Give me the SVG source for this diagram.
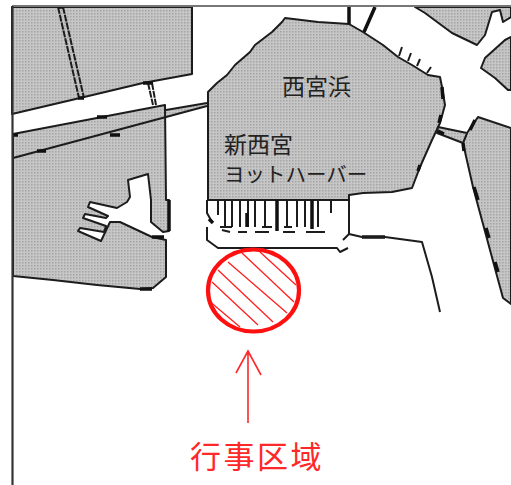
<svg xmlns="http://www.w3.org/2000/svg" width="511" height="485" viewBox="0 0 511 485">
<defs>
<pattern id="stipple" width="3" height="3" patternUnits="userSpaceOnUse">
<rect width="3" height="3" fill="#c6c6c6"/>
<rect x="1" y="1" width="1.5" height="1.5" fill="#a4a4a4"/>
</pattern>
</defs>
<style>
.land{fill:url(#stipple);stroke:#1c1c1c;stroke-width:2;stroke-linejoin:round}
.ln{fill:none;stroke:#1c1c1c;stroke-width:2;stroke-linejoin:round}
.thick{fill:none;stroke:#111;stroke-width:3.5}
.hatch{fill:none;stroke:#ff2020;stroke-width:1.3}
.lbl{font-family:"Noto Sans CJK JP","Liberation Sans",sans-serif;fill:#222}
.red{font-family:"Noto Sans CJK JP","Liberation Sans",sans-serif;fill:#ff2828;font-size:31px;letter-spacing:2.5px}
</style>
<rect width="511" height="485" fill="#fff"/>
<g id="map">
<polygon class="land" points="12,7 192,7 192,74 143,83 80,98 12,114"/>
<polygon class="land" points="13,134 165,105 166,200 169,200 169,231 163,232 151,222 151,200 148,174 128,180 130,197 127,202 117,208 90,202 88,207 108,216 106,218 85,214 83,218 106,226 104,232 80,228 78,231 101,241 110,222 120,222 152,237 166,240 166,277 153,288 140,289 97,285 53,280 13,276"/>
<polygon points="166,110 207,103 207,106 166,118" fill="url(#stipple)"/>
<polyline class="ln" points="13,158 207,106"/>
<polyline class="ln" points="166,110 207,103"/>
<path class="thick" d="M169,200V231M152,237h12M140,289h12M13,135h5M97,117h10M110,135h10M37,151h9"/>
<path class="ln" d="M58,7L79,98M63,7L84,98M148,83L153,105M152,83L156,105" stroke-dasharray="7 1"/>
<path class="thick" d="M58,7h5M78,98h6M143,83h10"/>
<polygon class="land" points="208,92 217,83 227,75 235,65 250,52 255,45 272,32 282,22 285,18 318,22 349,24 363,32 383,45 398,57 412,65 428,75 440,77 442,87 445,105 440,123 432,140 420,167 412,188 392,192 363,193 349,195 349,200 208,200"/>
<path class="thick" d="M349,7V24M375,7L364,32M442,87l1,12M441,115l-2,8M420,165l-2,6"/>
<path class="ln" d="M399,56l3,-9M408,61l3,-8M417,66l3,-7M427,73l4,-6"/>
<polygon class="land" points="415,7 511,7 511,17 503,22 500,10 492,12 485,35 477,45 452,33 425,13"/>
<polygon class="land" points="511,37 505,40 485,58 481,68 495,78 508,90 511,90"/>
<polygon class="land" points="478,117 511,128 511,304 503,298 500,287 473,187 463,143 467,133"/>
<polygon class="land" points="438,127 467,133 463,143 437,133"/>
<path class="thick" d="M474,187l4,13M486,228l3,10M495,262l3,10M463,143l1,8M475,120l-5,10M362,237h23M438,131l6,3"/>
<path class="ln" d="M349,195V234L362,237L385,237L422,242L432,277L440,312M207,200V213L212,222M207,227V240L218,248H337L340,252L348,248M343,240L349,234"/>
<path class="ln" d="M218,200V215M225,200V227M232,200V227M240,200V227M248,200V227M255,200V227M265,200V227M287,200V227M297,200V227M305,200V227M318,200V227M331,200V213M220,227H232M262,227H272M284,227H292"/>
<path class="thick" d="M277,200V231M247,213V227M312,200V229M209,219l4,4"/>
<path class="ln" d="M222,230l8,2M238,232h9M255,232h14M283,232h12M306,232h19"/>
</g>
<g id="event-area">
<ellipse cx="253.5" cy="290.5" rx="45.5" ry="41" fill="#fff"/>
<path class="hatch" d="M260,252L296,285M242,253L294,302M228,262L287,313M218,270L273,322M212,282L258,325M208,300L240,327"/>
<ellipse cx="253.5" cy="290.5" rx="45.5" ry="41" fill="none" stroke="#ff1010" stroke-width="4.2"/>
</g>
<g id="frame">
<path d="M12,6H511" stroke="#777" stroke-width="2" fill="none"/>
<path d="M12.5,6V485" stroke="#333" stroke-width="2.2" fill="none"/>
</g>
<g id="connectors">
<path d="M248,423V351M236,373L248,351L261,375" fill="none" stroke="#ff2828" stroke-width="1.6"/>
</g>
<g id="labels">
<text class="lbl" x="282" y="95" font-size="23">西宮浜</text>
<text class="lbl" x="224" y="153" font-size="23">新西宮</text>
<text class="lbl" x="224" y="182" font-size="20.5">ヨットハーバー</text>
<text class="red" x="190" y="468">行事区域</text>
</g>
</svg>
